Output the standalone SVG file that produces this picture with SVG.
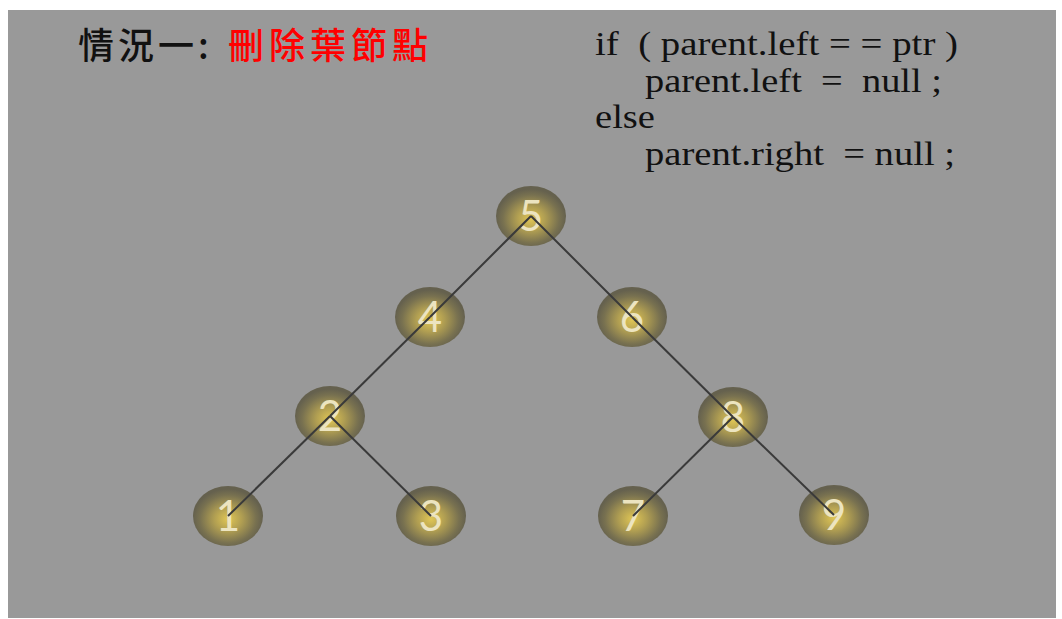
<svg xmlns="http://www.w3.org/2000/svg" width="1062" height="619" viewBox="0 0 1062 619">
<defs>
<radialGradient id="g" cx="0.5" cy="0.55" r="0.5">
<stop offset="0" stop-color="#e0c655"/>
<stop offset="0.4" stop-color="#b09e52"/>
<stop offset="0.8" stop-color="#787150"/>
<stop offset="1" stop-color="#65614e"/>
</radialGradient>
<style>
.n{fill:url(#g);}
.t{font-family:Lato,"Liberation Sans",sans-serif;font-size:42px;fill:#ece4c0;text-anchor:middle;}
.e{stroke:#3a3a3a;stroke-width:2;fill:none;}
.code{font-family:"Liberation Serif","DejaVu Serif",serif;font-size:34px;fill:#111;}
.cjk{font-family:"Noto Sans CJK TC","Noto Sans CJK SC",sans-serif;font-size:36px;font-weight:500;}
</style>
</defs>
<rect width="1062" height="619" fill="#ffffff"/>
<rect x="8" y="10" width="1048" height="608" fill="#999999"/>
<g id="title">
<text class="cjk" x="78" y="59" fill="#111" letter-spacing="4">情況一:</text>
<text class="cjk" x="228" y="59" fill="#ff0000" letter-spacing="5">刪除葉節點</text>
</g>
<g id="code">
<text class="code" x="595" y="55" xml:space="preserve" textLength="363" lengthAdjust="spacingAndGlyphs">if  ( parent.left = = ptr )</text>
<text class="code" x="645" y="92" xml:space="preserve" textLength="297" lengthAdjust="spacingAndGlyphs">parent.left  =  null ;</text>
<text class="code" x="595" y="128" textLength="60" lengthAdjust="spacingAndGlyphs">else</text>
<text class="code" x="645" y="165" xml:space="preserve" textLength="310" lengthAdjust="spacingAndGlyphs">parent.right  = null ;</text>
</g>
<g id="n5"><ellipse class="n" cx="531" cy="216" rx="35" ry="30"/><text class="t" x="531" y="231">5</text></g>
<g id="n4"><ellipse class="n" cx="430" cy="317" rx="35" ry="30"/><text class="t" x="430" y="332">4</text></g>
<g id="n6"><ellipse class="n" cx="632" cy="317" rx="35" ry="30"/><text class="t" x="632" y="332">6</text></g>
<g id="n2"><ellipse class="n" cx="330" cy="416" rx="35" ry="30"/><text class="t" x="330" y="431">2</text></g>
<g id="n8"><ellipse class="n" cx="733" cy="417" rx="35" ry="30"/><text class="t" x="733" y="432">8</text></g>
<g id="n1"><ellipse class="n" cx="228" cy="516" rx="35" ry="30"/><text class="t" x="228" y="531">1</text></g>
<g id="n3"><ellipse class="n" cx="431" cy="516" rx="35" ry="30"/><text class="t" x="431" y="531">3</text></g>
<g id="n7"><ellipse class="n" cx="633" cy="516" rx="35" ry="30"/><text class="t" x="633" y="531">7</text></g>
<g id="n9"><ellipse class="n" cx="834" cy="515" rx="35" ry="30"/><text class="t" x="834" y="530">9</text></g>
<g id="edges">
<line class="e" x1="531" y1="216" x2="430" y2="317"/>
<line class="e" x1="531" y1="216" x2="632" y2="317"/>
<line class="e" x1="430" y1="317" x2="330" y2="416"/>
<line class="e" x1="632" y1="317" x2="733" y2="417"/>
<line class="e" x1="330" y1="416" x2="228" y2="516"/>
<line class="e" x1="330" y1="416" x2="431" y2="516"/>
<line class="e" x1="733" y1="417" x2="633" y2="516"/>
<line class="e" x1="733" y1="417" x2="834" y2="515"/>
</g>
</svg>
